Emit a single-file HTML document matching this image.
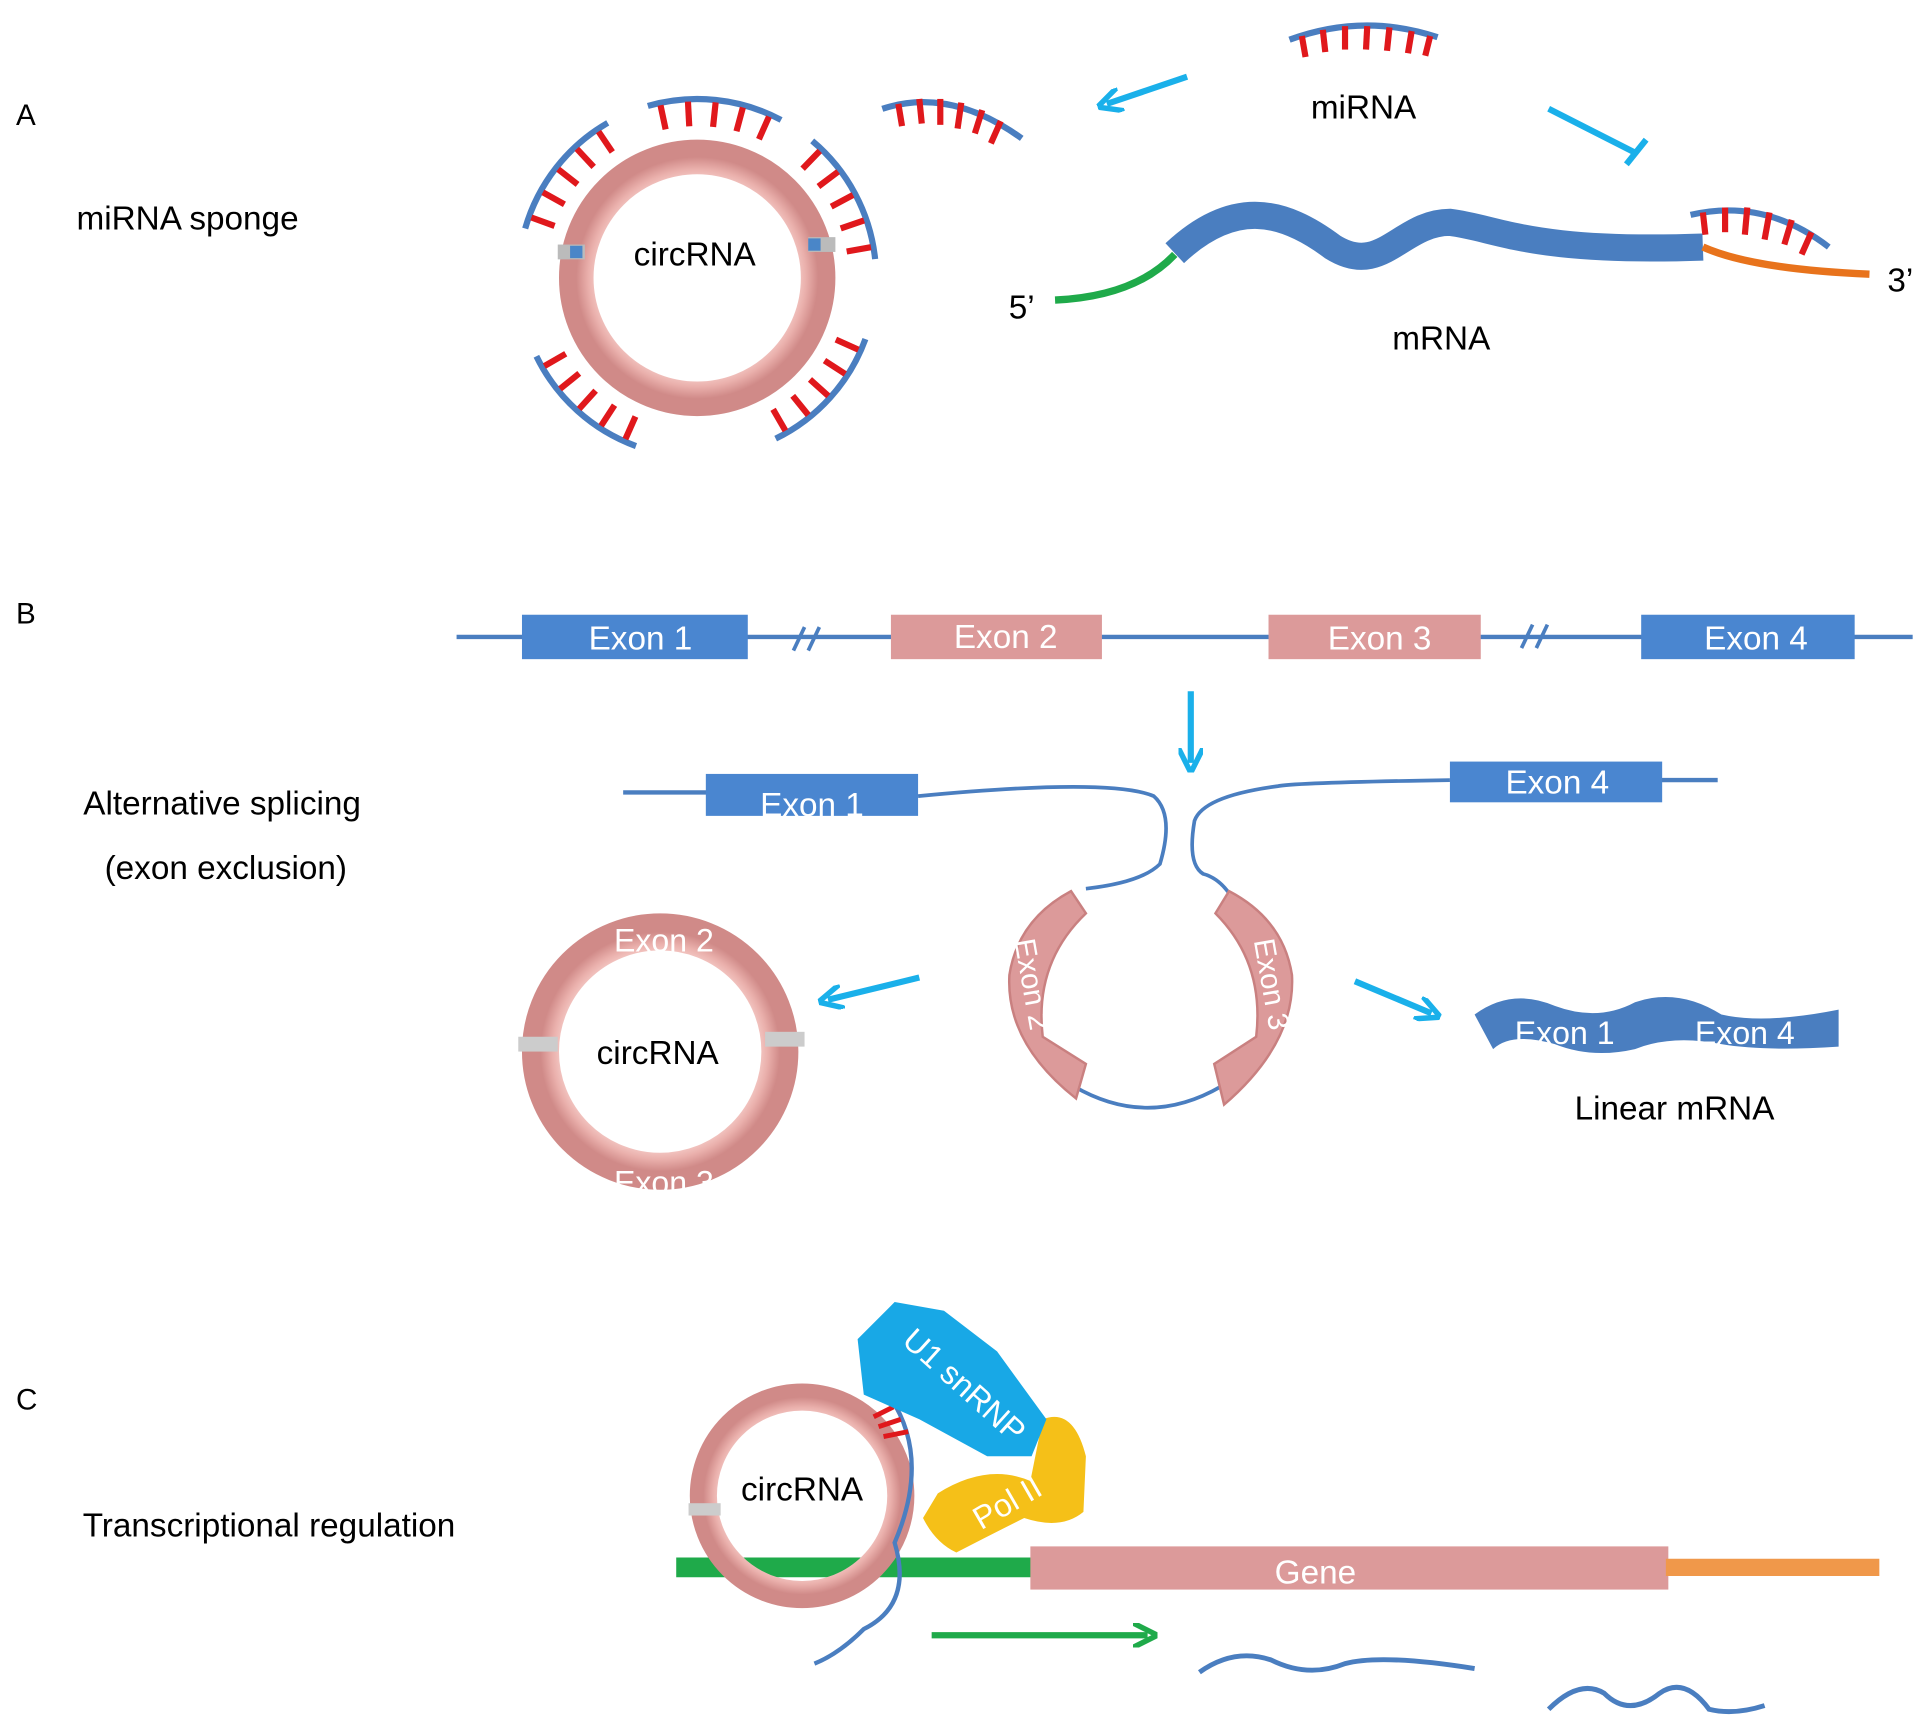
<!DOCTYPE html>
<html><head><meta charset="utf-8"><style>
html,body{margin:0;padding:0;background:#fff;}
svg{display:block;}
text{font-family:"Liberation Sans",Arial,sans-serif;}
</style></head><body>
<svg width="1925" height="1728" viewBox="0 0 1560 1400" xmlns="http://www.w3.org/2000/svg">
<defs>
<radialGradient id="rg" cx="50%" cy="50%" r="50%">
<stop offset="0.72" stop-color="#d48a86"/><stop offset="0.8" stop-color="#f7d0cc"/><stop offset="0.9" stop-color="#eab0ac"/><stop offset="1" stop-color="#d08a88"/>
</radialGradient>
<marker id="ah" viewBox="0 0 10 10" refX="6" refY="5" markerWidth="4" markerHeight="4" orient="auto"><path d="M0,0 L10,5 L0,10" fill="none" stroke="#1ab0ea" stroke-width="2.2"/></marker>
<marker id="ahg" viewBox="0 0 10 10" refX="6" refY="5" markerWidth="4" markerHeight="4" orient="auto"><path d="M0,0 L10,5 L0,10" fill="none" stroke="#1faa4a" stroke-width="2.2"/></marker>
</defs>

<!-- ===== A ===== -->
<text x="13" y="101" font-size="24">A</text>
<text x="62" y="186" font-size="27">miRNA sponge</text>
<circle cx="565" cy="225" r="98" fill="none" stroke="url(#rg)" stroke-width="28"/>
<rect x="452" y="198" width="22" height="12" fill="#bbb"/><rect x="462" y="199" width="10" height="10" fill="#4a86c8"/>
<rect x="655" y="192" width="22" height="12" fill="#bbb"/><rect x="655" y="193" width="10" height="10" fill="#4a86c8"/>
<text x="563" y="215" font-size="27" text-anchor="middle">circRNA</text>
<g fill="none" stroke="#4a7ec0" stroke-width="5">
<path d="M525,85.7 A145,145 0 0 1 633,97"/>
<path d="M658.2,114 A145,145 0 0 1 709.2,209.8"/>
<path d="M701.3,274.6 A145,145 0 0 1 628.6,355.3"/>
<path d="M515.4,361.3 A145,145 0 0 1 434.7,288.5"/>
<path d="M425.6,185 A145,145 0 0 1 492.5,99.4"/>
</g>
<g stroke="#e0181c" stroke-width="5">
<g transform="rotate(-12 565 225)"><line x1="565" y1="82" x2="565" y2="102"/></g>
<g transform="rotate(-3 565 225)"><line x1="565" y1="82" x2="565" y2="102"/></g>
<g transform="rotate(6 565 225)"><line x1="565" y1="82" x2="565" y2="102"/></g>
<g transform="rotate(15 565 225)"><line x1="565" y1="82" x2="565" y2="102"/></g>
<g transform="rotate(24 565 225)"><line x1="565" y1="82" x2="565" y2="102"/></g>
<g transform="rotate(44 565 225)"><line x1="565" y1="82" x2="565" y2="102"/></g>
<g transform="rotate(53 565 225)"><line x1="565" y1="82" x2="565" y2="102"/></g>
<g transform="rotate(62 565 225)"><line x1="565" y1="82" x2="565" y2="102"/></g>
<g transform="rotate(71 565 225)"><line x1="565" y1="82" x2="565" y2="102"/></g>
<g transform="rotate(80 565 225)"><line x1="565" y1="82" x2="565" y2="102"/></g>
<g transform="rotate(114 565 225)"><line x1="565" y1="82" x2="565" y2="102"/></g>
<g transform="rotate(123 565 225)"><line x1="565" y1="82" x2="565" y2="102"/></g>
<g transform="rotate(132 565 225)"><line x1="565" y1="82" x2="565" y2="102"/></g>
<g transform="rotate(141 565 225)"><line x1="565" y1="82" x2="565" y2="102"/></g>
<g transform="rotate(150 565 225)"><line x1="565" y1="82" x2="565" y2="102"/></g>
<g transform="rotate(204 565 225)"><line x1="565" y1="82" x2="565" y2="102"/></g>
<g transform="rotate(213 565 225)"><line x1="565" y1="82" x2="565" y2="102"/></g>
<g transform="rotate(222 565 225)"><line x1="565" y1="82" x2="565" y2="102"/></g>
<g transform="rotate(231 565 225)"><line x1="565" y1="82" x2="565" y2="102"/></g>
<g transform="rotate(240 565 225)"><line x1="565" y1="82" x2="565" y2="102"/></g>
<g transform="rotate(290 565 225)"><line x1="565" y1="82" x2="565" y2="102"/></g>
<g transform="rotate(299 565 225)"><line x1="565" y1="82" x2="565" y2="102"/></g>
<g transform="rotate(308 565 225)"><line x1="565" y1="82" x2="565" y2="102"/></g>
<g transform="rotate(317 565 225)"><line x1="565" y1="82" x2="565" y2="102"/></g>
<g transform="rotate(326 565 225)"><line x1="565" y1="82" x2="565" y2="102"/></g>
</g>
<!-- free miRNA -->
<g>
<path d="M715,88 Q770,70 828,112" fill="none" stroke="#4a7ec0" stroke-width="5"/>
<g stroke="#e0181c" stroke-width="5"><line x1="728" y1="84" x2="731" y2="102"/><line x1="745" y1="80" x2="747" y2="100"/><line x1="762" y1="80" x2="762" y2="101"/><line x1="779" y1="83" x2="776" y2="104"/><line x1="796" y1="89" x2="790" y2="108"/><line x1="811" y1="98" x2="803" y2="116"/></g>
<path d="M1045,32 Q1105,10 1165,30" fill="none" stroke="#4a7ec0" stroke-width="5"/>
<g stroke="#e0181c" stroke-width="5"><line x1="1055" y1="29" x2="1058" y2="46"/><line x1="1072" y1="24" x2="1074" y2="42"/><line x1="1090" y1="21" x2="1090" y2="40"/><line x1="1108" y1="21" x2="1107" y2="40"/><line x1="1126" y1="22" x2="1124" y2="41"/><line x1="1144" y1="25" x2="1141" y2="43"/><line x1="1159" y1="29" x2="1155" y2="45"/></g>
<path d="M1370,174 Q1430,160 1482,200" fill="none" stroke="#4a7ec0" stroke-width="5"/>
<g stroke="#e0181c" stroke-width="5"><line x1="1380" y1="172" x2="1382" y2="190"/><line x1="1398" y1="168" x2="1398" y2="188"/><line x1="1416" y1="168" x2="1414" y2="190"/><line x1="1434" y1="172" x2="1430" y2="194"/><line x1="1452" y1="178" x2="1446" y2="198"/><line x1="1468" y1="188" x2="1460" y2="206"/></g>
</g>
<line x1="962" y1="62" x2="897" y2="84" stroke="#1ab0ea" stroke-width="5" marker-end="url(#ah)"/>
<line x1="1255" y1="88" x2="1326" y2="124" stroke="#1ab0ea" stroke-width="5"/>
<line x1="1318" y1="133" x2="1334" y2="113" stroke="#1ab0ea" stroke-width="5"/>
<text x="1105" y="96" font-size="27" text-anchor="middle">miRNA</text>
<path d="M855,243 Q920,240 952,206" fill="none" stroke="#1faa4a" stroke-width="6"/>
<path d="M952,205 C1000,160 1040,170 1080,200 C1120,225 1135,180 1175,180 C1215,185 1240,205 1380,200" fill="none" stroke="#4a7ec0" stroke-width="22"/>
<path d="M1380,200 Q1420,218 1515,222" fill="none" stroke="#e8731c" stroke-width="6"/>
<text x="828" y="258" font-size="27" text-anchor="middle">5’</text>
<text x="1540" y="236" font-size="27" text-anchor="middle">3’</text>
<text x="1168" y="283" font-size="27" text-anchor="middle">mRNA</text>

<!-- ===== B ===== -->
<text x="13" y="505" font-size="24">B</text>
<text x="180" y="660" font-size="27" text-anchor="middle">Alternative splicing</text>
<text x="183" y="712" font-size="27" text-anchor="middle">(exon exclusion)</text>
<line x1="370" y1="516" x2="1550" y2="516" stroke="#4a7ec0" stroke-width="3.5"/>
<line x1="643" y1="527" x2="652" y2="508" stroke="#4a7ec0" stroke-width="3"/><line x1="655" y1="527" x2="664" y2="508" stroke="#4a7ec0" stroke-width="3"/>
<line x1="1233" y1="525" x2="1242" y2="506" stroke="#4a7ec0" stroke-width="3"/><line x1="1245" y1="525" x2="1254" y2="506" stroke="#4a7ec0" stroke-width="3"/>
<rect x="423" y="498" width="183" height="36" fill="#4a86d0"/><text x="519" y="526" font-size="27" fill="#fff" text-anchor="middle">Exon 1</text>
<rect x="722" y="498" width="171" height="36" fill="#dc9a9a"/><text x="815" y="525" font-size="27" fill="#fff" text-anchor="middle">Exon 2</text>
<rect x="1028" y="498" width="172" height="36" fill="#dc9a9a"/><text x="1118" y="526" font-size="27" fill="#fff" text-anchor="middle">Exon 3</text>
<rect x="1330" y="498" width="173" height="36" fill="#4a86d0"/><text x="1423" y="526" font-size="27" fill="#fff" text-anchor="middle">Exon 4</text>
<line x1="965" y1="560" x2="965" y2="618" stroke="#1ab0ea" stroke-width="5" marker-end="url(#ah)"/>

<line x1="505" y1="642" x2="575" y2="642" stroke="#4a7ec0" stroke-width="3.5"/>
<rect x="572" y="627" width="172" height="34" fill="#4a86d0"/><text x="658" y="661" font-size="27" fill="#fff" text-anchor="middle">Exon 1</text>
<path d="M744,645 Q900,630 935,645 Q952,660 940,700 Q925,715 880,720" fill="none" stroke="#4a7ec0" stroke-width="3"/>
<line x1="1345" y1="632" x2="1392" y2="632" stroke="#4a7ec0" stroke-width="3.5"/>
<rect x="1175" y="617" width="172" height="33" fill="#4a86d0"/><text x="1262" y="643" font-size="27" fill="#fff" text-anchor="middle">Exon 4</text>
<path d="M1175,632 Q1050,634 1035,637 Q975,645 968,665 Q962,700 975,708 Q990,712 1000,730" fill="none" stroke="#4a7ec0" stroke-width="3"/>
<path d="M870,880 Q930,915 990,880" fill="none" stroke="#4a7ec0" stroke-width="3"/>
<path d="M868,722 L880,740 Q838,780 845,840 L880,862 L872,890 Q815,845 818,790 Q825,745 868,722 Z" fill="#dc9a9a" stroke="#c98080" stroke-width="2"/>
<path d="M996,722 L985,740 Q1025,780 1018,840 L984,862 L992,895 Q1050,845 1047,790 Q1040,745 996,722 Z" fill="#dc9a9a" stroke="#c98080" stroke-width="2"/>
<text transform="translate(822,762) rotate(80)" font-size="24" fill="#fff">Exon 2</text>
<text transform="translate(1016,762) rotate(80)" font-size="24" fill="#fff">Exon 3</text>
<circle cx="535" cy="852" r="97" fill="none" stroke="url(#rg)" stroke-width="30"/>
<rect x="420" y="840" width="32" height="12" fill="#ccc"/><rect x="620" y="836" width="32" height="12" fill="#ccc"/>
<text x="538" y="771" font-size="26" fill="#fff" text-anchor="middle">Exon 2</text>
<text x="538" y="967" font-size="26" fill="#fff" text-anchor="middle">Exon 3</text>
<text x="533" y="862" font-size="27" text-anchor="middle">circRNA</text>
<line x1="745" y1="792" x2="671" y2="810" stroke="#1ab0ea" stroke-width="5" marker-end="url(#ah)"/>
<line x1="1098" y1="795" x2="1160" y2="821" stroke="#1ab0ea" stroke-width="5" marker-end="url(#ah)"/>
<path d="M1195,822 Q1225,800 1260,815 Q1295,828 1325,812 Q1360,800 1395,822 Q1430,830 1490,818 L1490,848 Q1430,852 1395,846 Q1355,838 1325,850 Q1290,858 1260,846 Q1225,836 1210,850 Z" fill="#4a7ec0"/>
<text x="1268" y="846" font-size="26" fill="#fff" text-anchor="middle">Exon 1</text>
<text x="1414" y="846" font-size="26" fill="#fff" text-anchor="middle">Exon 4</text>
<text x="1357" y="907" font-size="27" text-anchor="middle">Linear mRNA</text>

<!-- ===== C ===== -->
<text x="13" y="1142" font-size="24">C</text>
<text x="218" y="1245" font-size="27" text-anchor="middle">Transcriptional regulation</text>
<line x1="548" y1="1270" x2="840" y2="1270" stroke="#1faa4a" stroke-width="16"/>
<rect x="835" y="1253" width="517" height="35" fill="#dc9a9a"/>
<text x="1066" y="1283" font-size="27" fill="#fff" text-anchor="middle">Gene</text>
<line x1="1350" y1="1270" x2="1523" y2="1270" stroke="#f0984a" stroke-width="14"/>
<circle cx="650" cy="1212" r="80" fill="none" stroke="url(#rg)" stroke-width="22"/>
<path d="M720,1130 Q755,1180 725,1250 Q740,1300 700,1320 Q680,1340 660,1348" fill="none" stroke="#4a7ec0" stroke-width="3.5"/>
<rect x="558" y="1218" width="26" height="10" fill="#ccc"/>
<text x="650" y="1216" font-size="27" text-anchor="middle">circRNA</text>
<g stroke="#e0181c" stroke-width="4"><line x1="708" y1="1148" x2="724" y2="1140"/><line x1="712" y1="1156" x2="730" y2="1150"/><line x1="716" y1="1164" x2="736" y2="1160"/></g>
<path d="M760,1210 Q800,1185 835,1200 L845,1150 Q870,1140 880,1180 L878,1225 Q860,1240 830,1230 Q800,1245 775,1258 Q758,1250 748,1230 Z" fill="#f5c018"/>
<text transform="translate(795,1240) rotate(-30)" font-size="26" fill="#fff">Pol II</text>
<path d="M725,1055 L765,1062 L808,1095 L848,1150 L836,1180 L800,1180 L745,1150 L700,1130 L695,1085 Z" fill="#18a8e6"/>
<text transform="translate(730,1088) rotate(42)" font-size="26" fill="#fff">U1 snRNP</text>
<line x1="755" y1="1325" x2="930" y2="1325" stroke="#1faa4a" stroke-width="5" marker-end="url(#ahg)"/>
<path d="M972,1355 Q1000,1335 1030,1345 Q1060,1360 1090,1348 Q1120,1340 1195,1352" fill="none" stroke="#4a7ec0" stroke-width="4"/>
<path d="M1255,1385 Q1280,1360 1300,1372 Q1320,1392 1345,1372 Q1365,1358 1385,1385 Q1405,1390 1430,1382" fill="none" stroke="#4a7ec0" stroke-width="4"/>
</svg>
</body></html>
